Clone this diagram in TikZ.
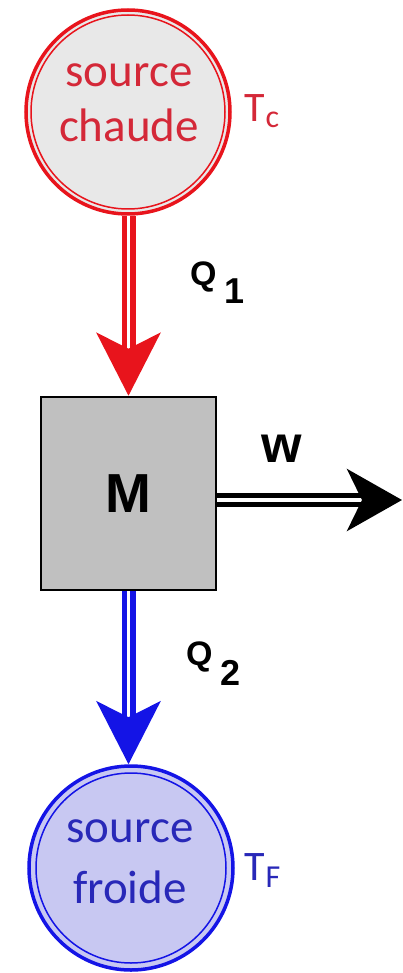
\documentclass[tikz,border=0pt]{standalone}
\usepackage{fontspec}
\setmainfont{Liberation Sans}
\newfontfamily\calib{Carlito}
\usetikzlibrary{arrows.meta}
\definecolor{hotred}{HTML}{E8141C}
\definecolor{hottext}{HTML}{D42838}
\definecolor{hotfill}{HTML}{E8E8E8}
\definecolor{coldblue}{HTML}{1414E6}
\definecolor{coldtext}{HTML}{2828B8}
\definecolor{coldfill}{HTML}{C8C8F2}
\definecolor{boxgray}{HTML}{C0C0C0}
\tikzset{
  source/.style={circle, minimum size=204pt, inner sep=0pt, line width=3.5pt},
  srctext/.style={anchor=base, inner sep=0pt, font=\calib\fontsize{47}{50}\selectfont},
  templabel/.style={anchor=base west, inner sep=0pt, font=\calib\fontsize{42}{44}\selectfont},
  flowlabel/.style={anchor=base west, inner sep=0pt, font=\bfseries\fontsize{34}{36}\selectfont},
  flow/.style={line width=5.5pt, double=white, double distance=3pt,
    -{Stealth[length=63pt, width=64pt, inset=16pt]}},
}
\begin{document}
\begin{tikzpicture}[x=1pt, y=-1pt]
\useasboundingbox (0,0) rectangle (403,973);

% hot source
\node[source, draw=hotred, fill=hotfill] (hot) at (128,112) {};
\draw[hotred, line width=1.5pt] (hot.center) circle (97pt);
\node[srctext, text=hottext] (hot1) at (129,87) {source};
\node[srctext, text=hottext] (hot2) at (129,142) {chaude};
\node[templabel, text=hottext] (tc) at (244,122) {T\hspace{1pt}\raisebox{-6pt}{\fontsize{32}{32}\selectfont c}};

% engine box
\node[draw=black, line width=2.5pt, fill=boxgray, minimum width=175pt, minimum height=193pt, inner sep=0pt,
      font=\bfseries\fontsize{55}{55}\selectfont] (box) at (128.5,493.5) {\raisebox{-4pt}{M}};

% cold source
\node[source, draw=coldblue, fill=coldfill] (cold) at (131,868) {};
\draw[coldblue, line width=1.5pt] (cold.center) circle (95pt);
\node[srctext, text=coldtext] (cold1) at (130,842) {source};
\node[srctext, text=coldtext] (cold2) at (130,903) {froide};
\node[templabel, text=coldtext] (tf) at (244,880) {T\hspace{1pt}\raisebox{-7pt}{\fontsize{32}{32}\selectfont F}};

% flows
\draw[flow, hotred] (hot.south -| box.north) -- (box.north);
\draw[flow, coldblue] (box.south) -- (box.south |- cold.north);
\coordinate (wend) at (402,500);
\draw[black, line width=5pt, double=white, double distance=3.5pt,
      -{Stealth[length=55pt, width=62pt, inset=15pt]}] (box.east |- wend) -- (wend);

% labels
\node[flowlabel] (q1) at (190,285) {Q\hspace{8pt}\raisebox{-18pt}{\fontsize{36}{36}\selectfont 1}};
\node[flowlabel] (q2) at (186,665) {Q\hspace{8pt}\raisebox{-20pt}{\fontsize{36}{36}\selectfont 2}};
\node[anchor=base west, inner sep=0pt, font=\bfseries\fontsize{52}{52}\selectfont] (w) at (261,462) {w};
\end{tikzpicture}
\end{document}
